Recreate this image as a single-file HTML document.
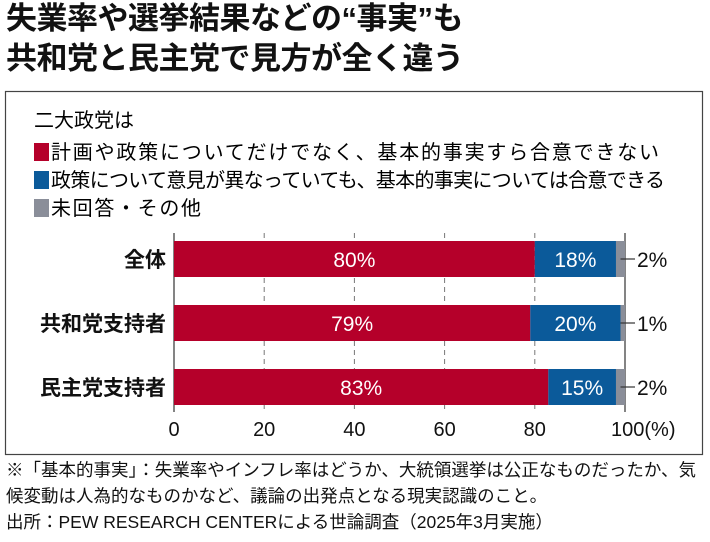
<!DOCTYPE html>
<html><head><meta charset="utf-8"><style>
body{margin:0;width:710px;height:542px;background:#fff;overflow:hidden;font-family:"Liberation Sans","Noto Sans CJK JP",sans-serif;color:#111}
.t{position:absolute;left:6px;font-weight:bold;font-size:31px;letter-spacing:-0.5px;line-height:36px}
.n{position:absolute;left:6px;font-size:17.5px;line-height:20px;white-space:nowrap}
</style></head><body>
<div class="t" style="top:1px">失業率や選挙結果などの“事実”も</div>
<div class="t" style="top:41px">共和党と民主党で見方が全く違う</div>
<svg width="710" height="542" style="position:absolute;left:0;top:0">
<rect x="5.5" y="91.5" width="697" height="363" fill="none" stroke="#444" stroke-width="1.2"/>
<g font-size="20" font-family="Liberation Sans,Noto Sans CJK JP,sans-serif">
<text x="34" y="127">二大政党は</text>
<rect x="34" y="143" width="15" height="18" fill="#b5002a"/>
<text x="51" y="159" textLength="608">計画や政策についてだけでなく、基本的事実すら合意できない</text>
<rect x="34" y="171" width="15" height="18" fill="#0b5a9a"/>
<text x="51" y="187" textLength="614">政策について意見が異なっていても、基本的事実については合意できる</text>
<rect x="34" y="199" width="15" height="18" fill="#8a8e99"/>
<text x="51" y="215" textLength="150">未回答・その他</text>
</g>
<g id="plot"></g>
</svg>
<div class="n" style="top:460px">※「基本的事実」：失業率やインフレ率はどうか、大統領選挙は公正なものだったか、気</div>
<div class="n" style="top:486px">候変動は人為的なものかなど、議論の出発点となる現実認識のこと。</div>
<div class="n" style="top:512px">出所：PEW RESEARCH CENTERによる世論調査（2025年3月実施）</div>
<script>
const categories=["全体","共和党支持者","民主党支持者"];
const disagree=[80,79,83];
const agree=[18,20,15];
const other=[2,1,2];
const ticks=[0,20,40,60,80,100];
const NS="http://www.w3.org/2000/svg";
const g=document.getElementById("plot");
const S=4.51;
const x=v=>174+v*S;
const yTop=i=>241+i*64;
const bh=36;
function el(t,a,p){const e=document.createElementNS(NS,t);for(const k in a)e.setAttribute(k,a[k]);(p||g).appendChild(e);return e;}
ticks.forEach(t=>{
 if(t>0&&t<100){const l=el("line",{x1:x(t),x2:x(t),y1:233,y2:412,stroke:"#777","stroke-dasharray":"5,4","stroke-width":1});
 
 }
});
const ax=el("line",{x1:x(0),x2:x(0),y1:233,y2:412,stroke:"#333","stroke-width":1.2});


const ax2=el("line",{x1:x(100),x2:x(100),y1:233,y2:412,stroke:"#333","stroke-width":1.2});


ticks.forEach(t=>{
 const tx=el("text",{x:x(t),y:436,"text-anchor":t==100?"start":"middle","font-size":20,fill:"#111"});
 if(t==100){tx.setAttribute("x",x(t)-14);tx.textContent="100(%)";}else tx.textContent=t;
 
 
});
categories.forEach((c,i)=>{
 const y=yTop(i);
 const lab=el("text",{x:166,y:y+bh/2+8,"text-anchor":"end","font-size":21,"font-weight":"bold",fill:"#111"});
 lab.textContent=c;
 
 
 const segs=[[0,disagree[i],"#b5002a"],[disagree[i],agree[i],"#0b5a9a"],[disagree[i]+agree[i],other[i],"#8a8e99"]];
 segs.forEach((s,j)=>{
  const r=el("rect",{x:x(s[0]),y:y,width:s[1]*S,height:bh,fill:s[2]});
  
  
  if(j<2){const tt=el("text",{x:x(s[0]+s[1]/2),y:y+bh/2+8,"text-anchor":"middle","font-size":21,fill:"#fff"});
   tt.textContent=s[1]+"%";
   
   }
 });
 const ln=el("line",{x1:x(99),x2:x(100)+10,y1:y+bh/2,y2:y+bh/2,stroke:"#333","stroke-width":1.2});
 
 
 const ot=el("text",{x:x(100)+12,y:y+bh/2+8,"font-size":21,fill:"#111"});
 ot.textContent=other[i]+"%";
 
 
});
</script>
</body></html>
